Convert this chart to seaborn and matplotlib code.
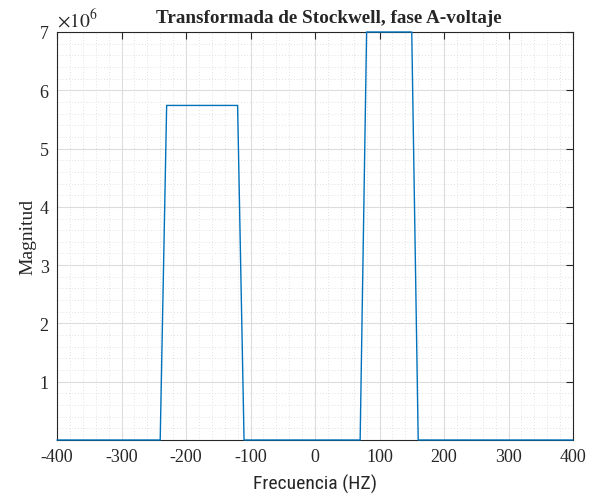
import matplotlib
matplotlib.use('Agg')
import matplotlib.pyplot as plt
import numpy as np
import pandas as pd
import seaborn as sns
from matplotlib.ticker import MultipleLocator, FuncFormatter

# vertices of the spectrum trace (Hz, magnitude)
freq = [-400, -240, -230, -120, -110, 70, 80, 150, 160, 400]
magnitud = [0, 0, 5.74e6, 5.74e6, 0, 0, 7.0e6, 7.0e6, 0, 0]
xticks = [-400, -300, -200, -100, 0, 100, 200, 300, 400]
yticks = [1e6, 2e6, 3e6, 4e6, 5e6, 6e6, 7e6]

df = pd.DataFrame({'f': freq, 'm': magnitud})

sns.set_style('white')
plt.rcParams['font.family'] = ['Liberation Serif', 'DejaVu Serif']
plt.rcParams['mathtext.fontset'] = 'stix'
plt.rcParams['axes.unicode_minus'] = False

fig = plt.figure(figsize=(5.95, 5.02), dpi=100)
ax = fig.add_axes([57 / 595, 61 / 502, 516 / 595, 408 / 502])

sns.lineplot(data=df, x='f', y='m', ax=ax, sort=False, estimator=None,
             color='#0072BD', linewidth=1.0, zorder=3, clip_on=False)

ax.set_xlim(-400, 400)
ax.set_ylim(0, 7e6)
ax.set_xticks(xticks)
ax.set_yticks(yticks)
ax.xaxis.set_minor_locator(MultipleLocator(20))
ax.yaxis.set_minor_locator(MultipleLocator(0.2e6))
ax.xaxis.set_major_formatter(FuncFormatter(lambda v, p: f'{v:g}'))
ax.yaxis.set_major_formatter(FuncFormatter(lambda v, p: f'{v / 1e6:g}'))

ax.grid(which='major', color='#dcdcdc', linewidth=0.8, linestyle='-')
ax.grid(which='minor', color='#d8d8d8', linewidth=0.6, linestyle=(0, (1, 2.5)))
ax.set_axisbelow(True)

ax.tick_params(which='major', direction='in', length=5, width=0.8,
               top=True, right=True, labelsize=13, colors='#262626',
               pad=6)
ax.tick_params(which='minor', length=0, top=True, right=True)
for s in ax.spines.values():
    s.set_color('#262626')
    s.set_linewidth(0.8)
    s.set_visible(True)

ax.set_title('Transformada de Stockwell, fase A-voltaje', fontsize=13.8,
             fontweight='bold', pad=7, x=0.527)
ax.set_ylabel('Magnitud', fontsize=14, labelpad=2)
ax.set_xlabel('Frecuencia (HZ)', fontsize=14, labelpad=6,
              family=['Roboto Condensed', 'Roboto', 'DejaVu Sans'])
ax.text(0.0, 1.005, r'$\times10^{6}$', transform=ax.transAxes, fontsize=14,
        ha='left', va='bottom', color='#262626')

fig.savefig('out.png', dpi=100)
